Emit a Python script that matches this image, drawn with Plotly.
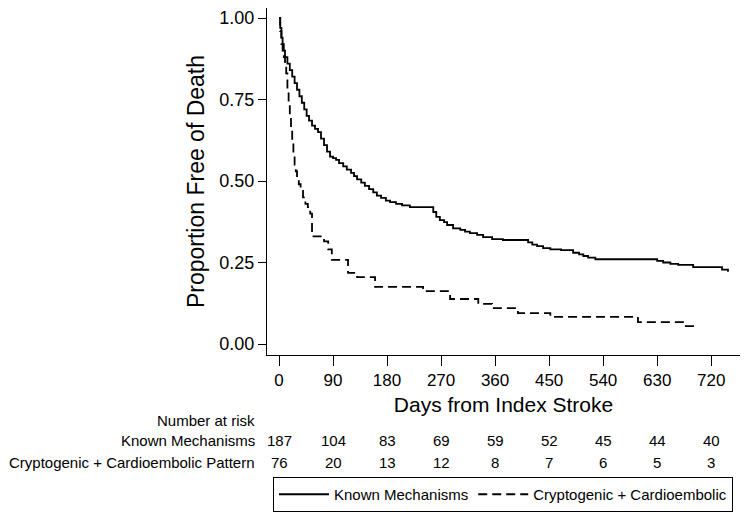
import plotly.graph_objects as go

# Kaplan-Meier step data
known_days = [0, 2, 4, 6, 8, 10, 14, 18, 22, 26, 30, 34, 38, 42, 46, 50, 55, 60, 65, 70,
              75, 80, 85, 90, 95, 100, 107, 113, 120, 125, 130, 137, 143, 150, 157, 163,
              170, 178, 185, 195, 205, 218, 257, 262, 268, 275, 280, 290, 302, 310, 318,
              330, 340, 355, 373, 415, 422, 430, 440, 452, 470, 490, 500, 507, 515, 527,
              630, 640, 652, 665, 690, 738, 748]
known_surv = [1.0, 0.97, 0.94, 0.92, 0.90, 0.88, 0.86, 0.84, 0.82, 0.80, 0.78, 0.76, 0.74,
              0.72, 0.70, 0.685, 0.67, 0.66, 0.65, 0.63, 0.61, 0.59, 0.575, 0.57, 0.565,
              0.555, 0.545, 0.535, 0.525, 0.515, 0.505, 0.495, 0.485, 0.475, 0.465, 0.455,
              0.448, 0.44, 0.435, 0.43, 0.425, 0.42, 0.405, 0.39, 0.38, 0.374, 0.365, 0.355,
              0.35, 0.345, 0.34, 0.335, 0.328, 0.322, 0.319, 0.312, 0.305, 0.30, 0.294,
              0.29, 0.288, 0.28, 0.275, 0.27, 0.265, 0.26, 0.255, 0.25, 0.246, 0.243,
              0.236, 0.228, 0.222]

crypto_days = [0, 2, 4, 6, 8, 10, 12, 14, 16, 18, 20, 22, 24, 26, 28, 30, 33, 36, 40, 44,
               48, 52, 55, 75, 82, 88, 115, 130, 160, 240, 285, 332, 355, 398, 452, 598,
               673, 693]
crypto_surv = [1.0, 0.96, 0.92, 0.90, 0.88, 0.86, 0.83, 0.78, 0.74, 0.70, 0.66, 0.62, 0.58,
               0.55, 0.53, 0.51, 0.49, 0.47, 0.45, 0.43, 0.42, 0.40, 0.33, 0.315, 0.29,
               0.258, 0.218, 0.205, 0.175, 0.162, 0.138, 0.123, 0.11, 0.095, 0.083, 0.067,
               0.055, 0.045]

tick_days = [0, 90, 180, 270, 360, 450, 540, 630, 720]
y_ticks = [0.0, 0.25, 0.5, 0.75, 1.0]
y_tick_labels = ["0.00", "0.25", "0.50", "0.75", "1.00"]

risk_known = [187, 104, 83, 69, 59, 52, 45, 44, 40]
risk_crypto = [76, 20, 13, 12, 8, 7, 6, 5, 3]

series_names = ["Known Mechanisms", "Cryptogenic + Cardioembolic"]

FONT = "Liberation Sans, Arial, sans-serif"
NB = "\u00a0"

fig = go.Figure()
fig.add_trace(go.Scatter(x=known_days, y=known_surv, mode="lines", line_shape="hv",
                         line=dict(color="black", width=1.8),
                         name=series_names[0]))
fig.add_trace(go.Scatter(x=crypto_days, y=crypto_surv, mode="lines", line_shape="hv",
                         line=dict(color="black", width=1.8, dash="9px,5px"),
                         name=series_names[1]))

OFF = 8  # page body margin
W, H = 742, 516
L, R, T, B = 259, 10, 0, 169
plot_h = H - T - B
plot_w = W - L - R

def py(page_pix):
    return (H - B - (page_pix - OFF)) / plot_h

def px(page_pix):
    return ((page_pix - OFF) - L) / plot_w

annotations = []
for txt, ypix in [("Number at risk", 420), ("Known Mechanisms", 441),
                  ("Cryptogenic + Cardioembolic Pattern", 462)]:
    annotations.append(dict(text=txt, xref="paper", yref="paper", x=px(257), y=py(ypix),
                            xanchor="right", yanchor="middle", showarrow=False,
                            font=dict(size=15, color="black", family=FONT)))
for d, a, b in zip(tick_days, risk_known, risk_crypto):
    annotations.append(dict(text=str(a), xref="x", yref="paper", x=d, y=py(441),
                            xanchor="center", yanchor="middle", showarrow=False,
                            font=dict(size=15, color="black", family=FONT)))
    annotations.append(dict(text=str(b), xref="x", yref="paper", x=d, y=py(462),
                            xanchor="center", yanchor="middle", showarrow=False,
                            font=dict(size=15, color="black", family=FONT)))

fig.update_layout(
    width=W, height=H,
    margin=dict(l=L, r=R, t=T, b=B, autoexpand=False),
    paper_bgcolor="white", plot_bgcolor="white",
    font=dict(family=FONT, color="black"),
    xaxis=dict(range=[-20, 768], tickvals=tick_days, ticks="outside", ticklen=10,
               tickcolor="black", showline=True, linecolor="black", linewidth=1,
               showgrid=False, zeroline=False, tickfont=dict(size=17), automargin=False,
               title=dict(text="Days from Index Stroke", font=dict(size=21), standoff=7)),
    yaxis=dict(range=[-0.0337, 1.0307], tickvals=y_ticks, ticktext=y_tick_labels,
               ticks="outside", ticklen=8, tickcolor="black", showline=True,
               linecolor="black", linewidth=1, showgrid=False, zeroline=False,
               tickfont=dict(size=18), automargin=False,
               title=dict(text="Proportion Free of Death", font=dict(size=23), standoff=8)),
    legend=dict(orientation="h", x=px(273), y=py(477), xanchor="left", yanchor="top",
                bordercolor="black", borderwidth=1, font=dict(size=15),
                itemwidth=50),
    annotations=annotations,
)

fig.write_html("out.html")
